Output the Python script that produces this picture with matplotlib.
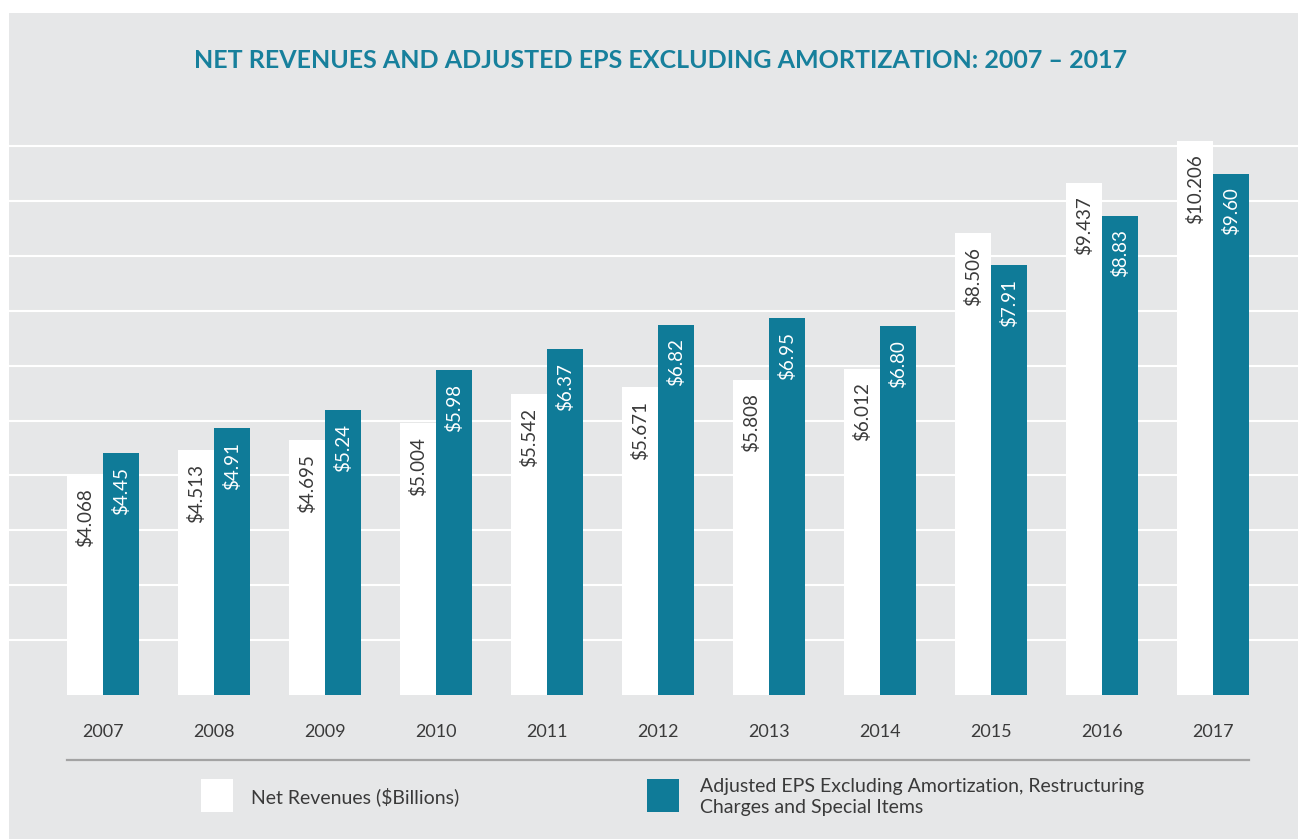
import numpy as np
import matplotlib
matplotlib.use('Agg')
import matplotlib.pyplot as plt
from matplotlib.patches import Rectangle

plt.rcParams['font.family'] = ['Lato', 'DejaVu Sans']

years = ['2007', '2008', '2009', '2010', '2011', '2012', '2013', '2014', '2015', '2016', '2017']
revenues = [4.068, 4.513, 4.695, 5.004, 5.542, 5.671, 5.808, 6.012, 8.506, 9.437, 10.206]
eps = [4.45, 4.91, 5.24, 5.98, 6.37, 6.82, 6.95, 6.80, 7.91, 8.83, 9.60]

title = 'NET REVENUES AND ADJUSTED EPS EXCLUDING AMORTIZATION: 2007 \u2013 2017'
leg_rev = 'Net Revenues ($Billions)'
leg_eps = 'Adjusted EPS Excluding Amortization, Restructuring\nCharges and Special Items'

BG = '#e6e7e8'
TEAL = '#0f7b98'
TITLE_C = '#17809c'
DARK = '#3a3a3a'

W, H = 1298, 839
def fx(px):
    return px / W
def fy(py):
    return (H - py) / H

fig = plt.figure(figsize=(W / 100, H / 100), dpi=100)
fig.patch.set_facecolor('white')
fig.add_artist(Rectangle((fx(9), 0), 1 - fx(9), fy(13), transform=fig.transFigure,
                         facecolor=BG, edgecolor='none', zorder=0))

# plot area: baseline at y=695 px, ~54.3 px per unit
px_unit = 54.3
base_y, top_y = 695, 120
ax = fig.add_axes([fx(9), fy(base_y), (W - 9) / W, (base_y - top_y) / H])
ax.set_facecolor('none')

x = np.arange(len(years))
w = 36 / 111
ax.bar(x - w / 2, revenues, w, color='white', zorder=3)
ax.bar(x + w / 2, eps, w, color=TEAL, zorder=3)

ax.set_xlim((9 - 103) / 111, (W - 103) / 111)
ax.set_ylim(0, (base_y - top_y) / px_unit)

grid_step = 1.011
for k in range(1, 11):
    ax.axhline(k * grid_step, color='white', lw=1.5, zorder=1)

for xi, v in zip(x, revenues):
    ax.annotate(f'${v:.3f}', (xi - w / 2, v), xytext=(0, -10), textcoords='offset points',
                rotation=90, ha='center', va='top', fontsize=13.5, color=DARK, zorder=4)
for xi, v in zip(x, eps):
    ax.annotate(f'${v:.2f}', (xi + w / 2, v), xytext=(0, -10), textcoords='offset points',
                rotation=90, ha='center', va='top', fontsize=13.5, color='white', zorder=4)

ax.set_xticks(x, years)
ax.tick_params(axis='x', length=0, pad=21, labelsize=13, labelcolor=DARK)
ax.set_yticks([])
for s in ax.spines.values():
    s.set_visible(False)

# separator line under the years
sep_y = -(760 - base_y) / px_unit
ax.plot([x[0] - w, x[-1] + w], [sep_y, sep_y], color='#a3a3a3', lw=1.6, clip_on=False)

# legend
fig.add_artist(Rectangle((fx(201), fy(812)), 32 / W, 33 / H, transform=fig.transFigure,
                         facecolor='white', edgecolor='none'))
fig.add_artist(Rectangle((fx(647), fy(812)), 32 / W, 33 / H, transform=fig.transFigure,
                         facecolor=TEAL, edgecolor='none'))
fig.text(fx(251), fy(797), leg_rev, ha='left', va='center', fontsize=14, color=DARK)
fig.text(fx(700), fy(797), leg_eps, ha='left', va='center', fontsize=14, color=DARK,
         linespacing=1.3)

t = fig.text(fx(661), fy(60), title, ha='center', va='center', fontsize=15,
             fontweight='bold', color=TITLE_C)
fig.canvas.draw()
bw = t.get_window_extent().width
t.set_fontsize(15 * 932 / bw)

fig.savefig('out.png', dpi=100)
